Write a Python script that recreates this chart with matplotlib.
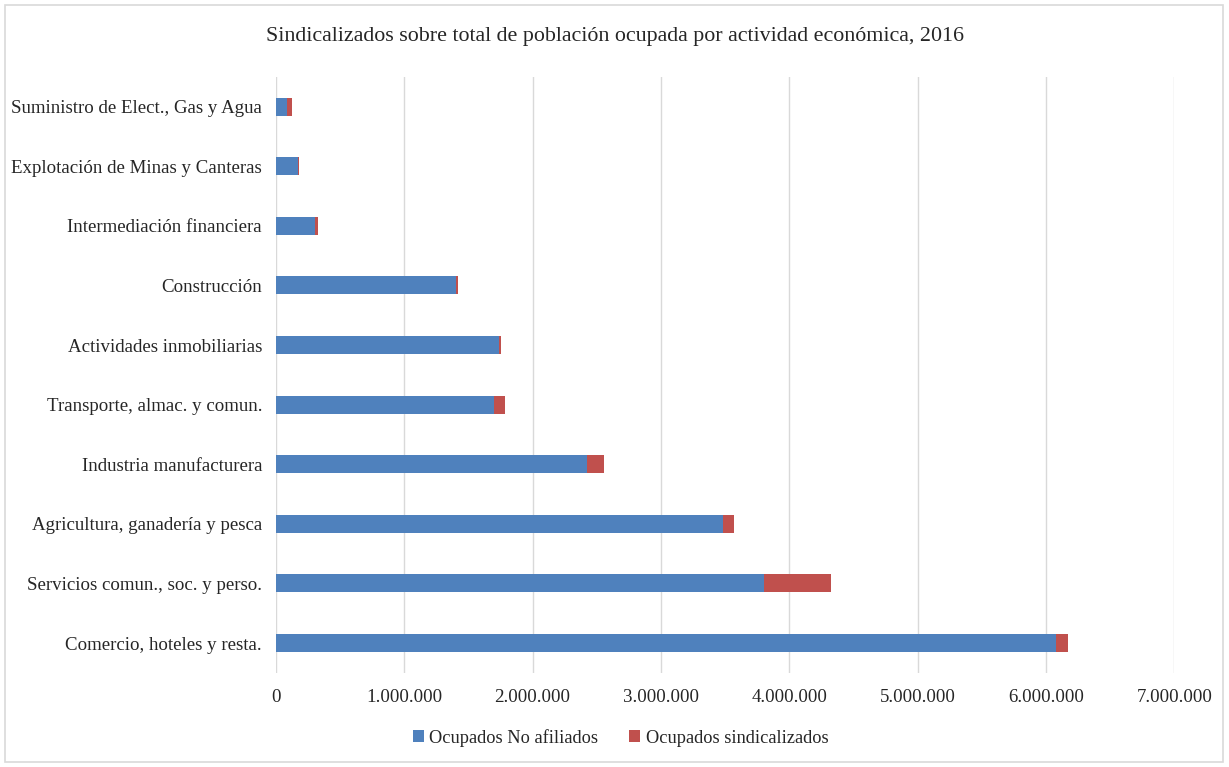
import matplotlib.pyplot as plt
from matplotlib.patches import Rectangle
from matplotlib.ticker import FuncFormatter

# Población ocupada por rama de actividad, 2016
actividades = [
    "Comercio, hoteles y resta.",
    "Servicios comun., soc. y perso.",
    "Agricultura, ganadería y pesca",
    "Industria manufacturera",
    "Transporte, almac. y comun.",
    "Actividades inmobiliarias",
    "Construcción",
    "Intermediación financiera",
    "Explotación de Minas y Canteras",
    "Suministro de Elect., Gas y Agua",
]
no_afiliados = [6080000, 3805000, 3487000, 2425000, 1700000,
                1735000, 1400000, 305000, 175000, 88000]
sindicalizados = [95000, 520000, 83000, 130000, 85000,
                  15000, 15000, 22000, 8000, 35000]

plt.rcParams['font.family'] = ['Liberation Serif', 'DejaVu Serif']

azul = '#4f81bd'
rojo = '#c0504d'

fig = plt.figure(figsize=(12.29, 7.67), dpi=100)
ax = fig.add_axes([0.2245, 0.1228, 0.731, 0.777])

pos = range(len(actividades))
ax.barh(pos, no_afiliados, height=0.3, color=azul, label='Ocupados No afiliados')
ax.barh(pos, sindicalizados, left=no_afiliados, height=0.3, color=rojo,
        label='Ocupados sindicalizados')

ax.set_xlim(0, 7000000)
ax.set_ylim(-0.5, len(actividades) - 0.5)
ax.set_xticks(range(0, 7000001, 1000000))
ax.xaxis.set_major_formatter(FuncFormatter(lambda v, p: f"{int(v):,}".replace(',', '.')))
ax.set_yticks(list(pos))
ax.set_yticklabels(actividades)
ax.tick_params(axis='both', length=0, labelsize=13.6, colors='#262626')
ax.tick_params(axis='x', pad=12)
ax.tick_params(axis='y', pad=10)

ax.grid(axis='x', color='#d9d9d9', linewidth=1)
ax.set_axisbelow(True)
for s in ax.spines.values():
    s.set_visible(False)

fig.suptitle('Sindicalizados sobre total de población ocupada por actividad económica, 2016',
             x=0.5, y=0.965, fontsize=15.8, color='#262626')

fig.legend(loc='lower center', bbox_to_anchor=(0.505, 0.005), ncol=2, frameon=False,
           fontsize=13.2, handlelength=0.6, handleheight=0.6, handletextpad=0.3,
           columnspacing=1.7, labelcolor='#262626')

# borde del gráfico
fig.patches.append(Rectangle((0.004, 0.006), 0.991, 0.987, transform=fig.transFigure,
                             fill=False, edgecolor='#d9d9d9', linewidth=1.2))

fig.savefig('out.png', dpi=100)
